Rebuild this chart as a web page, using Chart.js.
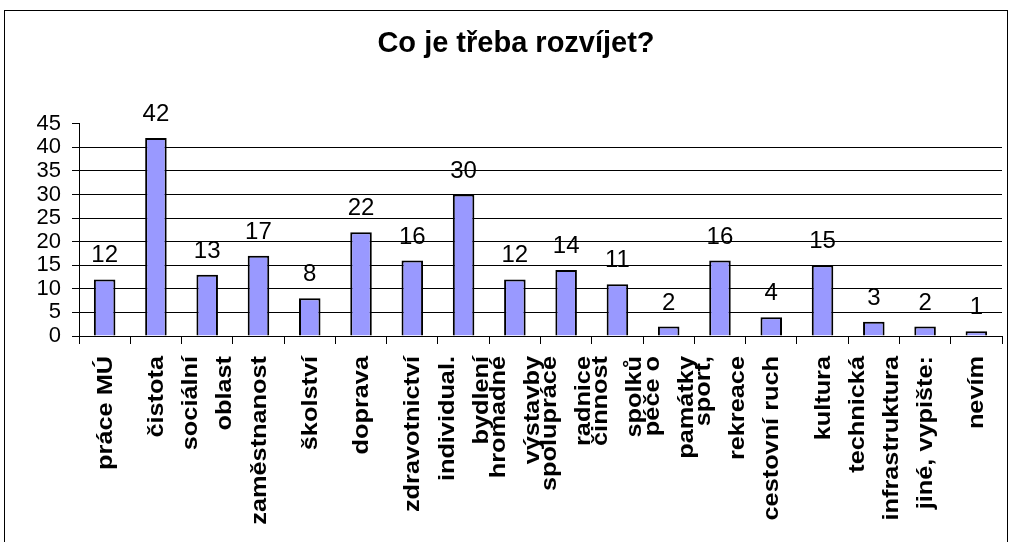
<!DOCTYPE html>
<html>
<head>
<meta charset="utf-8">
<title>Co je třeba rozvíjet?</title>
<script src="https://cdn.jsdelivr.net/npm/chart.js@4/dist/chart.umd.min.js"></script>
<style>
    html, body { margin: 0; padding: 0; background: #fff; overflow: hidden; }
    #wrap { position: relative; width: 1012px; height: 542px; }
    #frame { position: absolute; left: 4px; top: 10px; width: 1002px; height: 600px; border: 1px solid #000; }
    #chart { position: absolute; left: 0; top: 0; }
</style>
</head>
<body>
<div id="wrap">
    <div id="frame"></div>
    <canvas id="chart" width="1012" height="542"></canvas>
</div>
<script>
const title = 'Co je třeba rozvíjet?';
const categories = [
    'práce MÚ',
    'čistota',
    ['sociální', 'oblast'],
    'zaměstnanost',
    'školství',
    'doprava',
    'zdravotnictví',
    ['individual.', 'bydlení'],
    ['hromadné', 'výstavby'],
    ['spolupráce', 'radnice'],
    ['činnost', 'spolků'],
    ['péče o', 'památky'],
    ['sport,', 'rekreace'],
    'cestovní ruch',
    'kultura',
    ['technická', 'infrastruktura'],
    'jiné, vypište:',
    'nevím'
];
const counts = [12, 42, 13, 17, 8, 22, 16, 30, 12, 14, 11, 2, 16, 4, 15, 3, 2, 1];
const yTicks = [0, 5, 10, 15, 20, 25, 30, 35, 40, 45];

const FONT = "'Liberation Sans', Arial, sans-serif";

// hodnoty nad sloupci
const valueLabels = {
    id: 'valueLabels',
    afterDatasetsDraw(chart) {
        const ctx = chart.ctx;
        const meta = chart.getDatasetMeta(0);
        ctx.save();
        ctx.font = '24px ' + FONT;
        ctx.fillStyle = '#000';
        ctx.textAlign = 'center';
        ctx.textBaseline = 'alphabetic';
        meta.data.forEach((bar, i) => {
            ctx.fillText(String(counts[i]), bar.x, bar.y - 17);
        });
        ctx.restore();
    }
};

// svislé popisky kategorií, víceřádkové vystředěné na dílek
const categoryLabels = {
    id: 'categoryLabels',
    afterDraw(chart) {
        const ctx = chart.ctx;
        const xs = chart.scales.x;
        const lineGap = 34;
        ctx.save();
        ctx.font = 'bold 22px ' + FONT;
        ctx.fillStyle = '#000';
        ctx.textAlign = 'right';
        ctx.textBaseline = 'middle';
        categories.forEach((label, i) => {
            const lines = Array.isArray(label) ? label : [label];
            const cx = xs.getPixelForTick(i);
            lines.forEach((line, j) => {
                const x = cx + (j - (lines.length - 1) / 2) * lineGap;
                ctx.save();
                ctx.translate(x + 1, xs.top + 20);
                ctx.rotate(-Math.PI / 2);
                ctx.scale(1.15, 1);
                ctx.fillText(line, 0, 0);
                ctx.restore();
            });
        });
        ctx.restore();
    }
};

new Chart(document.getElementById('chart').getContext('2d'), {
    type: 'bar',
    data: {
        labels: categories,
        datasets: [{
            data: counts,
            backgroundColor: '#9999FF',
            borderColor: '#000',
            borderWidth: 2,
            barPercentage: 0.42,
            categoryPercentage: 1
        }]
    },
    options: {
        responsive: false,
        animation: false,
        layout: { padding: { left: 30, right: 10, top: 0, bottom: 0 } },
        plugins: {
            legend: { display: false },
            tooltip: { enabled: false },
            title: {
                display: true,
                text: title,
                color: '#000',
                font: { family: FONT, size: 29, weight: 'bold' },
                padding: { top: 27, bottom: 62 }
            }
        },
        scales: {
            x: {
                afterFit(scale) { scale.height = 206; },
                border: { color: '#000', width: 1 },
                grid: {
                    drawOnChartArea: false,
                    offset: true,
                    color: '#000',
                    tickLength: 8
                },
                ticks: { display: false }
            },
            y: {
                min: 0,
                max: 45,
                afterFit(scale) { scale.width = 49; },
                afterBuildTicks(scale) { scale.ticks = yTicks.map(v => ({ value: v })); },
                border: { color: '#000', width: 1 },
                grid: {
                    color: ctx => ctx.tick && ctx.tick.value === 45 ? 'rgba(0,0,0,0)' : '#000',
                    tickColor: '#000',
                    tickLength: 7
                },
                ticks: {
                    autoSkip: false,
                    padding: 11,
                    color: '#000',
                    font: { family: FONT, size: 22 }
                }
            }
        }
    },
    plugins: [valueLabels, categoryLabels]
});
</script>
</body>
</html>
